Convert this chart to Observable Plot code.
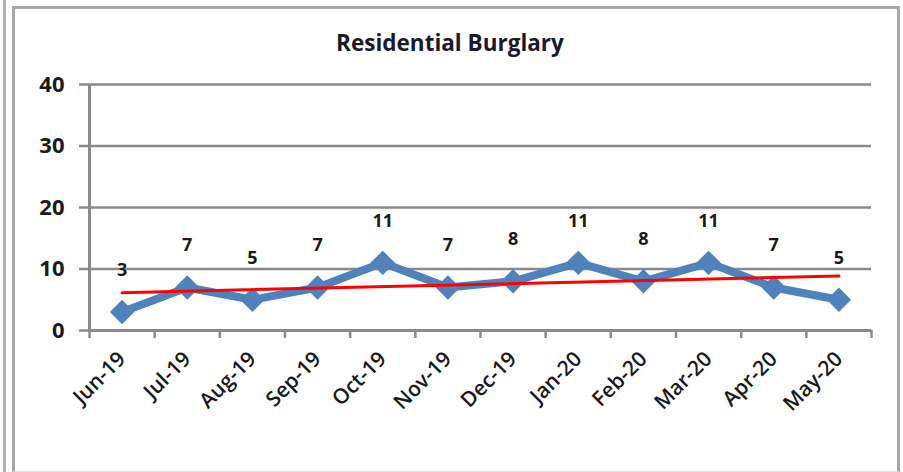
<!DOCTYPE html>
<html>
<head>
<meta charset="utf-8">
<script src="https://cdn.jsdelivr.net/npm/d3@7"></script>
<script src="https://cdn.jsdelivr.net/npm/@observablehq/plot@0.6"></script>
<style>
  html, body { margin: 0; padding: 0; background: #fff; }
  body { width: 903px; height: 472px; position: relative; overflow: hidden; font-family: "Open Sans", Lato, sans-serif; }
  #outer { position: absolute; left: 12px; top: 6px; width: 882px; height: 462px; border: 3px solid #a8a8a8; border-bottom: 1px solid #e0e0e0; }
  #leftline { position: absolute; left: 3px; top: 0; width: 3px; height: 472px; background: #b4b4b4; }
  #title { position: absolute; top: 27px; left: 0; width: 900px; text-align: center; font: bold 22.5px "Open Sans", sans-serif; color: #1a1a2a; }
  #chart { position: absolute; left: 0; top: 0; }
</style>
</head>
<body>
<div id="leftline"></div>
<div id="outer"></div>
<div id="title">Residential Burglary</div>
<div id="chart"></div>
<script>
const months = ["Jun-19","Jul-19","Aug-19","Sep-19","Oct-19","Nov-19","Dec-19","Jan-20","Feb-20","Mar-20","Apr-20","May-20"];
const burglaries = [3, 7, 5, 7, 11, 7, 8, 11, 8, 11, 7, 5];
const yTicks = [0, 10, 20, 30, 40];

const data = months.map((m, i) => ({month: m, idx: i + 1, value: burglaries[i]}));
const boundaries = d3.range(0.5, months.length + 1, 1);

const plot = Plot.plot({
  width: 903,
  height: 472,
  marginTop: 84,
  marginBottom: 142,
  marginLeft: 89,
  marginRight: 32,
  style: {background: "transparent", overflow: "visible", fontFamily: "'Open Sans', sans-serif"},
  x: {type: "linear", domain: [0.5, months.length + 0.5]},
  y: {domain: [0, 40]},
  marks: [
    Plot.gridY(yTicks, {stroke: "#8a8a8a", strokeOpacity: 1, strokeWidth: 2.5}),
    Plot.axisY(yTicks, {tickSize: 10, stroke: "#8a8a8a", strokeWidth: 2.5, tickPadding: 15,
      fontSize: 22, fontWeight: "bold", fill: "#1a1a1a", label: null}),
    Plot.ruleX([0.5], {stroke: "#8a8a8a", strokeWidth: 3}),
    Plot.ruleY([0], {stroke: "#8a8a8a", strokeWidth: 3}),
    Plot.axisX(boundaries, {tickSize: 8, stroke: "#8a8a8a", strokeWidth: 2.5, tickFormat: () => "", label: null}),
    Plot.axisX(data.map(d => d.idx), {tickSize: 0, tickPadding: 25, tickRotate: -45,
      tickFormat: i => months[i - 1], fontSize: 21, fontWeight: 600, fill: "#1a1a1a", label: null}),
    Plot.lineY(data, {x: "idx", y: "value", stroke: "#4f81bd", strokeWidth: 8, strokeLinejoin: "miter"}),
    Plot.dot(data, {x: "idx", y: "value", symbol: "diamond2", r: 11, fill: "#4f81bd", stroke: null}),
    Plot.linearRegressionY(data, {x: "idx", y: "value", stroke: "#ff0000", strokeWidth: 3, ci: 0}),
    Plot.text(data, {x: "idx", y: "value", text: d => String(d.value), dy: -42,
      fontSize: 18, fontWeight: "bold", fill: "#1a1a1a"})
  ]
});
document.getElementById("chart").appendChild(plot);
</script>
</body>
</html>
